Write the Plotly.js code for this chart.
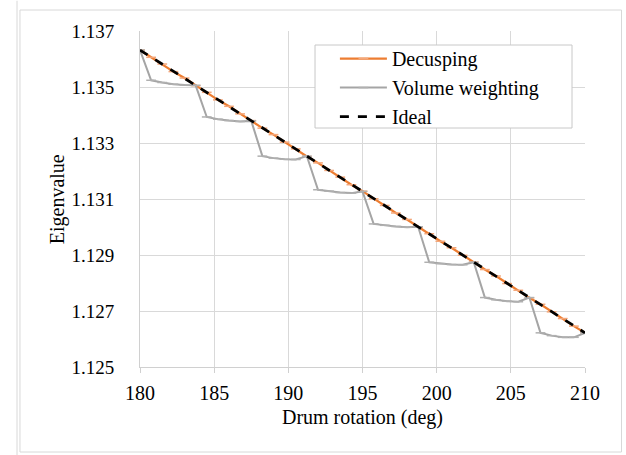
<!DOCTYPE html>
<html><head><meta charset="utf-8">
<script src="https://cdn.plot.ly/plotly-3.0.1.min.js"></script>
<style>html,body{margin:0;padding:0;background:#fff;}#chart{width:626px;height:455px;}</style>
</head><body><div id="chart"></div>
<script>
// Drum rotation (deg)
const rotation = [180,180.75,181.5,182.25,183,183.75,184.5,185.25,186,186.75,187.5,188.25,189,189.75,190.5,191.25,192,192.75,193.5,194.25,195,195.75,196.5,197.25,198,198.75,199.5,200.25,201,201.75,202.5,203.25,204,204.75,205.5,206.25,207,207.75,208.5,209.25,210];
const decusping = [1.13632,1.13606,1.13582,1.13555,1.13532,1.13505,1.13481,1.13454,1.13431,1.13404,1.13380,1.13353,1.13330,1.13303,1.13279,1.13252,1.13229,1.13202,1.13178,1.13151,1.13128,1.13101,1.13077,1.13050,1.13027,1.13000,1.12976,1.12949,1.12926,1.12899,1.12875,1.12848,1.12825,1.12798,1.12774,1.12747,1.12724,1.12697,1.12673,1.12646,1.12622];
const volumeWeighting = [1.13632,1.13524,1.13516,1.13510,1.13507,1.13506,1.13393,1.13385,1.13380,1.13377,1.13379,1.13253,1.13246,1.13242,1.13241,1.13253,1.13133,1.13128,1.13123,1.13121,1.13127,1.13011,1.13006,1.13002,1.12999,1.13001,1.12874,1.12869,1.12866,1.12865,1.12874,1.12748,1.12740,1.12735,1.12733,1.12748,1.12622,1.12612,1.12606,1.12606,1.12622];
const idealX = [180,210];
const idealY = [1.13632,1.12622];
const yTicks = [1.125,1.127,1.129,1.131,1.133,1.135,1.137];
const xTicks = [180,185,190,195,200,205,210];

const fam = 'Liberation Serif, Times New Roman, serif';
const font = {family:fam, size:20, color:'#000'};
const tickFontY = {family:fam, size:19, color:'#000'};
const traces = [
  {x:rotation, y:decusping, name:'Decusping', mode:'lines+markers', type:'scatter',
   line:{color:'#ED7D31', width:2.25}, marker:{symbol:'line-ew', size:7, line:{color:'#F4A77A', width:1.5}}},
  {x:rotation, y:volumeWeighting, name:'Volume weighting', mode:'lines+markers', type:'scatter',
   line:{color:'#A5A5A5', width:2}, marker:{symbol:'line-ew', size:7, line:{color:'#B0B0B0', width:1.5}}},
  {x:idealX, y:idealY, name:'Ideal', mode:'lines', type:'scatter',
   line:{color:'#000', width:2.75, dash:'dash'}}
];
const layout = {
  width:626, height:455,
  margin:{l:140, r:41, t:31, b:88},
  paper_bgcolor:'#fff', plot_bgcolor:'#fff',
  font:font,
  showlegend:true,
  legend:{x:0.438, y:0.976, xanchor:'left', yanchor:'top', bgcolor:'rgba(0,0,0,0)',
    borderwidth:0, font:font, itemwidth:47, tracegroupgap:0},
  xaxis:{range:[180,210], tickvals:xTicks, ticktext:xTicks.map(String),
    showgrid:true, gridcolor:'#d9d9d9', gridwidth:1, zeroline:false,
    showline:true, linecolor:'#d0d0d0', linewidth:1, ticks:'outside', ticklen:5, tickcolor:'#d0d0d0',
    ticklabelstandoff:3,
    tickfont:font, title:{text:'Drum rotation (deg)', font:font, standoff:6}},
  yaxis:{range:[1.125,1.137], tickvals:yTicks, ticktext:yTicks.map(v=>v.toFixed(3)),
    showgrid:true, gridcolor:'#d9d9d9', gridwidth:1, zeroline:false,
    showline:true, linecolor:'#d0d0d0', linewidth:1, ticks:'', ticklabelstandoff:21,
    tickfont:tickFontY},
  annotations:[
    {text:'Eigenvalue', xref:'paper', yref:'paper', x:-0.186, y:0.5, textangle:-90,
     showarrow:false, font:font, xanchor:'center', yanchor:'middle'}
  ],
  shapes:[
    {type:'rect', xref:'paper', yref:'paper', x0:-0.2697, x1:1.082, y0:-0.253, y1:1.0625,
     line:{color:'#d8d8d8', width:1}, fillcolor:'rgba(0,0,0,0)', layer:'below'},
    {type:'line', xref:'paper', yref:'paper', x0:-0.2764, x1:-0.2764, y0:-0.27, y1:1.09,
     line:{color:'#d8d8d8', width:1}},
    {type:'rect', xref:'paper', yref:'paper', x0:0.3933, x1:0.9708, y0:0.7113, y1:0.9583,
     line:{color:'#c8c8c8', width:1}, fillcolor:'#fff', layer:'above'}
  ]
};
Plotly.newPlot('chart', traces, layout, {displayModeBar:false, staticPlot:true});
</script></body></html>
